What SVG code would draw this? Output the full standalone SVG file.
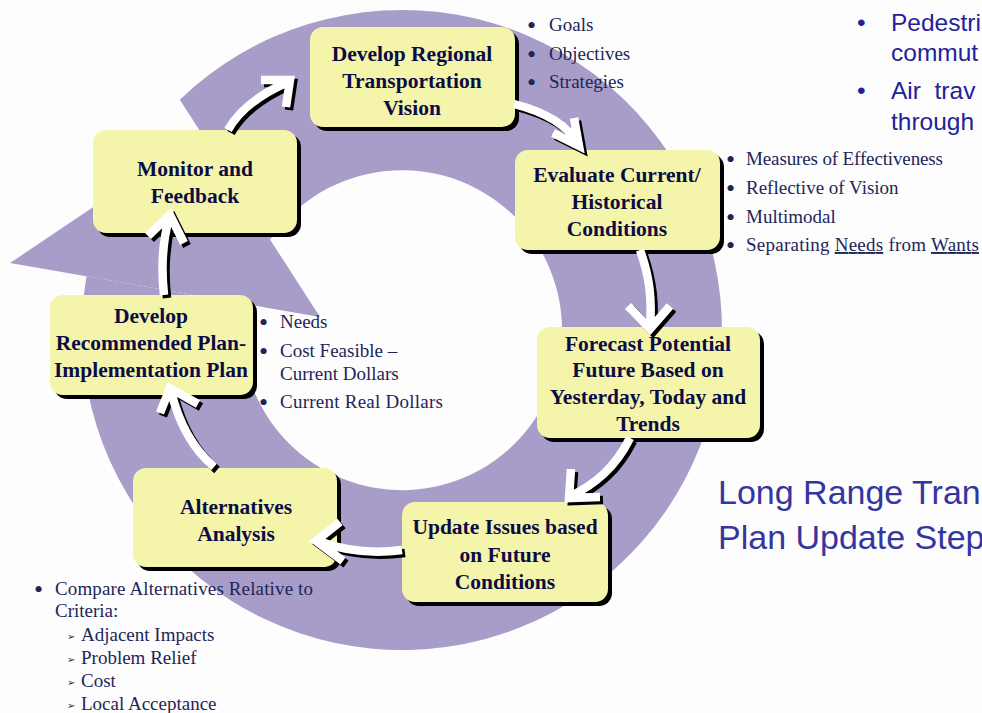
<svg xmlns="http://www.w3.org/2000/svg" xmlns:xlink="http://www.w3.org/1999/xlink" width="982" height="713" viewBox="0 0 982 713">
<style>
.ring{fill:#a89cc9}
.box{fill:#f4f4aa}
.shd{fill:#000}
.bt{font-family:"Liberation Serif",serif;font-weight:bold;font-size:21.5px;fill:#0c0c44;text-anchor:middle}
.li{font-family:"Liberation Serif",serif;font-size:19px;fill:#1d2657}
.bu{font-family:"Liberation Serif",serif;font-size:26px;fill:#1d2657}
.sa{font-family:"Liberation Sans",sans-serif;font-size:24.5px;fill:#22229a}
.ti{font-family:"Liberation Sans",sans-serif;font-size:34px;fill:#35359f}
.ash{fill:none;stroke:#000;stroke-width:8.5;stroke-linejoin:miter;stroke-miterlimit:10}
.aw{fill:none;stroke:#fff;stroke-width:8.5;stroke-linejoin:miter;stroke-miterlimit:10}
.sub{font-family:"DejaVu Sans",sans-serif;font-size:10px;fill:#1d2657}
</style>
<defs>
<path id="c1" d="M228 130 C238 112 256 96 288 82 M261 80 L290 80 L286 107"/>
<path id="c2" d="M514 104 C545 112 568 126 578 144 M553 133 L579 146 L574 118"/>
<path id="c3" d="M640 250 C650 278 652 300 650 326 M628 306 L650 329 L670 306"/>
<path id="c4" d="M630 438 C615 468 595 484 571 496 M571 469 L569 498 L600 497"/>
<path id="c5" d="M402 550 C372 554 345 551 318 541 M340 522 L316 541 L343 561"/>
<path id="c6" d="M214 467 C192 448 178 420 171 391 M160 413 L170 388 L198 404"/>
<path id="c7" d="M164 295 C161 268 162 244 169 218 M148 236 L170 215 L184 243"/>
</defs>
<rect width="982" height="713" fill="#fdfdfd"/>
<g id="ring">
<path class="ring" d="M179.8 99.7 A320 320 0 1 1 86.5 276.3 L244.2 303.8 A160 160 0 1 0 270.1 239.6 Z"/>
<polygon class="ring" points="10,263 202,134 320,317"/>
</g>
<g id="n1">
<rect class="shd" x="314" y="31" width="205" height="100" rx="13"/>
<rect class="box" x="310" y="27" width="205" height="100" rx="13"/>
<text class="bt" x="412" y="61">Develop Regional</text>
<text class="bt" x="412" y="88">Transportation</text>
<text class="bt" x="412" y="115">Vision</text>
</g>
<g id="n2">
<rect class="shd" x="519" y="154" width="205" height="100" rx="13"/>
<rect class="box" x="515" y="150" width="205" height="100" rx="13"/>
<text class="bt" x="617" y="182">Evaluate Current/</text>
<text class="bt" x="617" y="209">Historical</text>
<text class="bt" x="617" y="236">Conditions</text>
</g>
<g id="n3">
<rect class="shd" x="541" y="331" width="223" height="111" rx="13"/>
<rect class="box" x="537" y="327" width="223" height="111" rx="13"/>
<text class="bt" x="648" y="351">Forecast Potential</text>
<text class="bt" x="648" y="377">Future Based on</text>
<text class="bt" x="648" y="404">Yesterday, Today and</text>
<text class="bt" x="648" y="431">Trends</text>
</g>
<g id="n4">
<rect class="shd" x="406" y="506" width="206" height="100" rx="13"/>
<rect class="box" x="402" y="502" width="206" height="100" rx="13"/>
<text class="bt" x="505" y="534">Update Issues based</text>
<text class="bt" x="505" y="562">on Future</text>
<text class="bt" x="505" y="589">Conditions</text>
</g>
<g id="n5">
<rect class="shd" x="137" y="472" width="204" height="99" rx="13"/>
<rect class="box" x="133" y="468" width="204" height="99" rx="13"/>
<text class="bt" x="236" y="514">Alternatives</text>
<text class="bt" x="236" y="541">Analysis</text>
</g>
<g id="n6">
<rect class="shd" x="54" y="299" width="203" height="100" rx="13"/>
<rect class="box" x="50" y="295" width="203" height="100" rx="13"/>
<text class="bt" x="151" y="323">Develop</text>
<text class="bt" x="151" y="350">Recommended Plan-</text>
<text class="bt" x="151" y="377">Implementation Plan</text>
</g>
<g id="n7">
<rect class="shd" x="97" y="134" width="204" height="103" rx="13"/>
<rect class="box" x="93" y="130" width="204" height="103" rx="13"/>
<text class="bt" x="195" y="176">Monitor and</text>
<text class="bt" x="195" y="203">Feedback</text>
</g>
<g id="connectors">
<use xlink:href="#c1" class="ash" transform="translate(3,3)"/><use xlink:href="#c1" class="aw"/>
<use xlink:href="#c2" class="ash" transform="translate(3,3)"/><use xlink:href="#c2" class="aw"/>
<use xlink:href="#c3" class="ash" transform="translate(3,3)"/><use xlink:href="#c3" class="aw"/>
<use xlink:href="#c4" class="ash" transform="translate(3,3)"/><use xlink:href="#c4" class="aw"/>
<use xlink:href="#c5" class="ash" transform="translate(3,3)"/><use xlink:href="#c5" class="aw"/>
<use xlink:href="#c6" class="ash" transform="translate(3,3)"/><use xlink:href="#c6" class="aw"/>
<use xlink:href="#c7" class="ash" transform="translate(3,3)"/><use xlink:href="#c7" class="aw"/>
</g>
<g id="notes-vision">
<text class="bu" x="527" y="34">•</text><text class="li" x="549" y="31">Goals</text>
<text class="bu" x="527" y="63">•</text><text class="li" x="549" y="60">Objectives</text>
<text class="bu" x="527" y="91">•</text><text class="li" x="549" y="88">Strategies</text>
</g>
<g id="notes-evaluate">
<text class="bu" x="726" y="168">•</text><text class="li" x="746" y="165" textLength="197">Measures of Effectiveness</text>
<text class="bu" x="726" y="197">•</text><text class="li" x="746" y="194">Reflective of Vision</text>
<text class="bu" x="726" y="226">•</text><text class="li" x="746" y="223">Multimodal</text>
<text class="bu" x="726" y="254">•</text><text class="li" x="746" y="251" textLength="233">Separating <tspan text-decoration="underline">Needs</tspan> from <tspan text-decoration="underline">Wants</tspan></text>
</g>
<g id="notes-plan">
<text class="bu" x="259" y="331">•</text><text class="li" x="280" y="328">Needs</text>
<text class="bu" x="259" y="360">•</text><text class="li" x="280" y="357">Cost Feasible –</text>
<text class="li" x="280" y="380">Current Dollars</text>
<text class="bu" x="259" y="411">•</text><text class="li" x="280" y="408" textLength="163">Current Real Dollars</text>
</g>
<g id="notes-alternatives">
<text class="bu" x="34" y="598">•</text><text class="li" x="55" y="595" textLength="258">Compare Alternatives Relative to</text>
<text class="li" x="55" y="617">Criteria:</text>
<text class="sub" x="67" y="640">➢</text><text class="li" x="81" y="641">Adjacent Impacts</text>
<text class="sub" x="67" y="663">➢</text><text class="li" x="81" y="664">Problem Relief</text>
<text class="sub" x="67" y="686">➢</text><text class="li" x="81" y="687">Cost</text>
<text class="sub" x="67" y="709">➢</text><text class="li" x="81" y="710">Local Acceptance</text>
</g>
<g id="side-text">
<text class="sa" x="857" y="31">•</text><text class="sa" x="891" y="31">Pedestria</text>
<text class="sa" x="891" y="61">commut</text>
<text class="sa" x="857" y="99">•</text><text class="sa" x="891" y="99" xml:space="preserve">Air  trav</text>
<text class="sa" x="891" y="130">through</text>
<text class="ti" x="718" y="504">Long Range Tran</text>
<text class="ti" x="718" y="549">Plan Update Step</text>
</g>
</svg>
